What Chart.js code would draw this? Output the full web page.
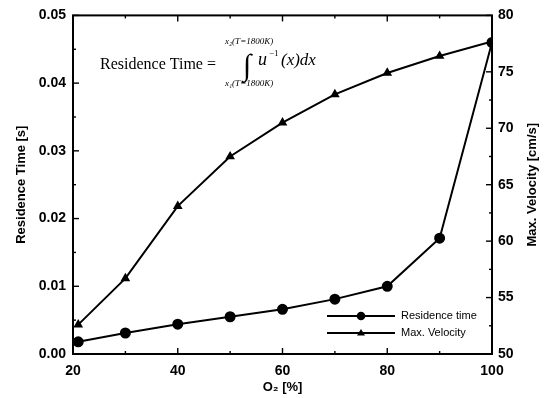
<!DOCTYPE html>
<html>
<head>
<meta charset="utf-8">
<script src="https://cdn.jsdelivr.net/npm/chart.js@4/dist/chart.umd.min.js"></script>
<style>
  html, body { margin: 0; padding: 0; background: #fff; }
  #wrap { width: 548px; height: 398px; }
</style>
</head>
<body>
<div id="wrap"><canvas id="chart" width="548" height="398"></canvas></div>
<script>
// O2 fraction vs. residence time and peak velocity
const o2Pct = [21, 30, 40, 50, 60, 70, 80, 90, 100];
const residenceTime = [0.0018, 0.0031, 0.0044, 0.0055, 0.0066, 0.0081, 0.0100, 0.0171, 0.0460];
const maxVelocity = [52.6, 56.7, 63.1, 67.5, 70.5, 73.0, 74.9, 76.4, 77.7];

const xTicks = [20, 40, 60, 80, 100];
const leftTicks = [0, 0.01, 0.02, 0.03, 0.04, 0.05];
const rightTicks = [50, 55, 60, 65, 70, 75, 80];

const FONT = "'Liberation Sans', Arial, sans-serif";
const SERIF = "'Liberation Serif', 'Times New Roman', serif";

const toPoints = ys => o2Pct.map((x, i) => ({ x, y: ys[i] }));

// inward major/minor ticks and the closed frame
const frameTicks = {
  id: 'frameTicks',
  afterDraw(chart) {
    const { ctx, chartArea: a, scales } = chart;
    ctx.save();
    ctx.strokeStyle = '#000';
    ctx.lineWidth = 2;
    ctx.strokeRect(a.left, a.top, a.right - a.left, a.bottom - a.top);
    ctx.lineWidth = 1.4;
    const tick = (x1, y1, x2, y2) => { ctx.beginPath(); ctx.moveTo(x1, y1); ctx.lineTo(x2, y2); ctx.stroke(); };
    for (let v = 20; v <= 100; v += 10) {
      const px = scales.x.getPixelForValue(v);
      const len = v % 20 === 0 ? 6 : 3;
      tick(px, a.bottom, px, a.bottom - len);
      tick(px, a.top, px, a.top + len);
    }
    for (let i = 0; i <= 10; i++) {
      const py = scales.y.getPixelForValue(i * 0.005);
      tick(a.left, py, a.left + (i % 2 ? 3 : 6), py);
    }
    for (let i = 0; i <= 12; i++) {
      const py = scales.y1.getPixelForValue(50 + i * 2.5);
      tick(a.right, py, a.right - (i % 2 ? 3 : 6), py);
    }
    ctx.restore();
  }
};

// formula annotation, right-hand axis title and legend box
const notes = {
  id: 'notes',
  afterDraw(chart) {
    const { ctx, chartArea: a } = chart;
    ctx.save();
    ctx.fillStyle = '#000';

    // right axis title reads bottom-to-top
    ctx.save();
    ctx.translate(532, (a.top + a.bottom) / 2);
    ctx.rotate(-Math.PI / 2);
    ctx.font = `bold 13px ${FONT}`;
    ctx.textAlign = 'center';
    ctx.textBaseline = 'middle';
    ctx.fillText('Max. Velocity [cm/s]', 0, 0);
    ctx.restore();

    ctx.textBaseline = 'alphabetic';
    ctx.font = `16px ${SERIF}`;
    ctx.fillText('Residence Time =', 100, 69);
    ctx.font = `30px ${SERIF}`;
    ctx.fillText('\u222B', 243, 75);
    ctx.font = `italic 18px ${SERIF}`;
    ctx.fillText('u', 258, 65);
    ctx.font = `9px ${SERIF}`;
    ctx.fillText('\u22121', 269, 56);
    ctx.font = `italic 17px ${SERIF}`;
    ctx.fillText('(x)dx', 281, 65);
    ctx.font = `italic 9px ${SERIF}`;
    ctx.fillText('x\u2082(T=1800K)', 225, 44);
    ctx.fillText('x\u2081(T=1800K)', 225, 86);

    // legend
    const rows = [
      { y: 316, label: 'Residence time', marker: 'circle' },
      { y: 333, label: 'Max. Velocity', marker: 'triangle' }
    ];
    ctx.font = `11px ${FONT}`;
    ctx.textBaseline = 'middle';
    ctx.lineWidth = 1.8;
    ctx.strokeStyle = '#000';
    rows.forEach(r => {
      ctx.beginPath();
      ctx.moveTo(327, r.y);
      ctx.lineTo(395, r.y);
      ctx.stroke();
      ctx.beginPath();
      if (r.marker === 'circle') {
        ctx.arc(361, r.y, 4.3, 0, Math.PI * 2);
      } else {
        ctx.moveTo(361, r.y - 4);
        ctx.lineTo(365, r.y + 2.5);
        ctx.lineTo(357, r.y + 2.5);
        ctx.closePath();
      }
      ctx.fill();
      ctx.fillText(r.label, 401, r.y);
    });
    ctx.restore();
  }
};

new Chart(document.getElementById('chart'), {
  type: 'line',
  data: {
    datasets: [
      {
        label: 'Residence time',
        data: toPoints(residenceTime),
        yAxisID: 'y',
        borderColor: '#000',
        backgroundColor: '#000',
        borderWidth: 2,
        pointStyle: 'circle',
        pointRadius: 4.5,
        tension: 0
      },
      {
        label: 'Max. Velocity',
        data: toPoints(maxVelocity),
        yAxisID: 'y1',
        borderColor: '#000',
        backgroundColor: '#000',
        borderWidth: 2,
        pointStyle: 'triangle',
        pointRadius: 3.6,
        tension: 0
      }
    ]
  },
  options: {
    responsive: false,
    animation: false,
    layout: { padding: { top: 15, left: 0, right: 0, bottom: 0 } },
    plugins: { legend: { display: false }, tooltip: { enabled: false } },
    scales: {
      x: {
        type: 'linear',
        min: 20, max: 100,
        afterBuildTicks: s => { s.ticks = xTicks.map(v => ({ value: v })); },
        afterFit: s => { s.height = 44; },
        grid: { display: false, drawTicks: false },
        border: { display: false },
        ticks: { color: '#000', font: { family: FONT, size: 14, weight: 'bold' }, padding: 9 },
        title: { display: true, text: 'O\u2082 [%]', color: '#000', font: { family: FONT, size: 13, weight: 'bold' }, padding: { top: 0, bottom: 3 } }
      },
      y: {
        position: 'left',
        min: 0, max: 0.05,
        afterBuildTicks: s => { s.ticks = leftTicks.map(v => ({ value: v })); },
        afterFit: s => { s.width = 73; },
        grid: { display: false, drawTicks: false },
        border: { display: false },
        ticks: { color: '#000', font: { family: FONT, size: 14, weight: 'bold' }, padding: 7, callback: v => v.toFixed(2) },
        title: { display: true, text: 'Residence Time [s]', color: '#000', font: { family: FONT, size: 13, weight: 'bold' }, padding: { top: 14, bottom: 0 } }
      },
      y1: {
        position: 'right',
        min: 50, max: 80,
        afterBuildTicks: s => { s.ticks = rightTicks.map(v => ({ value: v })); },
        afterFit: s => { s.width = 56; },
        grid: { display: false, drawTicks: false },
        border: { display: false },
        ticks: { color: '#000', font: { family: FONT, size: 14, weight: 'bold' }, padding: 6 },
        title: { display: false }
      }
    }
  },
  plugins: [frameTicks, notes]
});
</script>
</body>
</html>
